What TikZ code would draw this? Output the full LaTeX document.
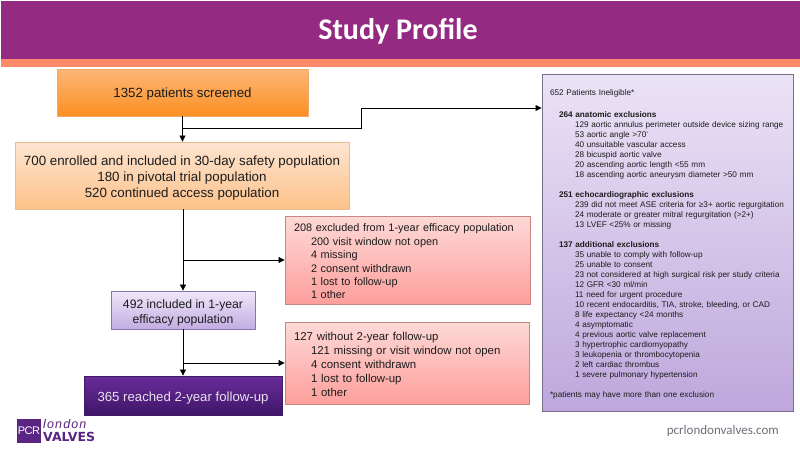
\documentclass[tikz,border=0pt]{standalone}
\usepackage{fontspec}
\setmainfont{Liberation Sans}
\newfontfamily\carl{Carlito}
\newfontfamily\dejav{DejaVu Sans}
\newfontfamily\lonfont[LetterSpace=9]{Liberation Sans}
\usetikzlibrary{shadows,arrows.meta}
\newcommand{\fdown}[1]{\rule{0pt}{#1}}
\tikzset{
  x=1pt,y=-1pt,
  flowbox/.style={rectangle,inner sep=0pt,align=center,
    drop shadow={shadow xshift=0.8pt,shadow yshift=-1.4pt,opacity=.4,fill=black}},
  orangebox/.style={flowbox,draw=orangeedge,line width=.7pt,top color=orangetop,bottom color=orangebot,text=textdark},
  peachbox/.style={flowbox,draw=peachedge,line width=.9pt,top color=peachtop,bottom color=peachbot,text=textdark},
  redbox/.style={flowbox,draw=rededge,line width=.8pt,top color=redtop,bottom color=redbot,text=textdark,align=left},
  lavbox/.style={flowbox,draw=lavedge,line width=.8pt,top color=lavtop,bottom color=lavbot,text=textdark},
  darkbox/.style={flowbox,draw=darkedge,line width=.8pt,top color=darktop,bottom color=darkbot,text=darktext},
  conn/.style={draw=black,line width=.75pt},
  connarrow/.style={conn,-{Triangle[length=6pt,width=6pt]}},
}
\definecolor{headpurple}{HTML}{942A82}
\definecolor{headsalmon}{HTML}{FB8A6B}
\definecolor{orangeedge}{HTML}{F0A868}
\definecolor{orangetop}{HTML}{FDB777}
\definecolor{orangebot}{HTML}{FC8F22}
\definecolor{peachedge}{HTML}{E8BC8E}
\definecolor{peachtop}{HTML}{FDE5D2}
\definecolor{peachbot}{HTML}{FDC28A}
\definecolor{rededge}{HTML}{C98583}
\definecolor{redtop}{HTML}{FDD9D7}
\definecolor{redbot}{HTML}{FD9F9C}
\definecolor{lavedge}{HTML}{8575B0}
\definecolor{lavtop}{HTML}{EFE8F8}
\definecolor{lavbot}{HTML}{C3ADE2}
\definecolor{darkedge}{HTML}{3F1A66}
\definecolor{darktop}{HTML}{6A2C9A}
\definecolor{darkbot}{HTML}{3F1668}
\definecolor{darktext}{HTML}{E8E2F0}
\definecolor{textdark}{HTML}{1C1C1C}
\definecolor{paneledge}{HTML}{77708A}
\definecolor{paneltop}{HTML}{EBE3F6}
\definecolor{panelbot}{HTML}{BEA7DC}
\definecolor{logopurple}{HTML}{5A2483}
\definecolor{urlgrey}{HTML}{6E6E78}
\begin{document}
\begin{tikzpicture}
\useasboundingbox (0,0) rectangle (800,450);
\fill[white] (0,0) rectangle (800,450);
\fill[headpurple] (1,1) rectangle (800,59);
\fill[headsalmon] (1,59) rectangle (800,67);
\node[text=white,font=\carl\bfseries\fontsize{30}{34}\selectfont] (title) at (398,31) {Study Profile};

\node[orangebox,minimum width=251pt,minimum height=47pt,font=\fontsize{13.3}{16}\selectfont] (screened) at (182.5,92.5) {\fdown{13pt}1352 patients screened};
\node[peachbox,minimum width=334pt,minimum height=67pt,font=\fontsize{13.35}{16}\selectfont] (enrolled) at (182,175.5) {\fdown{15pt}700 enrolled and included in 30-day safety population\\180 in pivotal trial population\\520 continued access population};
\node[redbox,minimum width=245pt,minimum height=88pt,text width=227pt,font=\fontsize{10.9}{13.4}\selectfont] (excl) at (407.5,260) {\fdown{11pt}208 excluded from 1-year efficacy population\\
\hspace*{17pt}200 visit window not open\\
\hspace*{17pt}4 missing\\
\hspace*{17pt}2 consent withdrawn\\
\hspace*{17pt}1 lost to follow-up\\
\hspace*{17pt}1 other};
\node[redbox,minimum width=244pt,minimum height=82pt,text width=226pt,font=\fontsize{11.4}{14}\selectfont] (without) at (407,363) {\fdown{11pt}127 without 2-year follow-up\\
\hspace*{17pt}121 missing or visit window not open\\
\hspace*{17pt}4 consent withdrawn\\
\hspace*{17pt}1 lost to follow-up\\
\hspace*{17pt}1 other};
\node[lavbox,minimum width=144pt,minimum height=38pt,font=\fontsize{12.2}{15}\selectfont] (included) at (183,310) {\fdown{14pt}492 included in 1-year\\efficacy population};
\node[darkbox,minimum width=198pt,minimum height=39pt,font=\fontsize{13.2}{16}\selectfont] (reached) at (183,395.5) {\fdown{15pt}365 reached 2-year follow-up};

\node[flowbox,draw=paneledge,line width=.9pt,top color=paneltop,bottom color=panelbot,minimum width=251pt,minimum height=337pt,text width=235pt,text=textdark,align=left,font=\fontsize{8.2}{10}\selectfont] (panel) at (667.5,242.5) {\fdown{9pt}652 Patients Ineligible*\\[2pt]
\mbox{}\\
\hspace*{9pt}\textbf{264 anatomic exclusions}\\
\hspace*{25pt}129 aortic annulus perimeter outside device sizing range\\
\hspace*{25pt}53 aortic angle >70{\raisebox{.3ex}{\fontsize{5}{5}\selectfont°}}\\
\hspace*{25pt}40 unsuitable vascular access\\
\hspace*{25pt}28 bicuspid aortic valve\\
\hspace*{25pt}20 ascending aortic length <55 mm\\
\hspace*{25pt}18 ascending aortic aneurysm diameter >50 mm\\
\mbox{}\\
\hspace*{9pt}\textbf{251 echocardiographic exclusions}\\
\hspace*{25pt}239 did not meet ASE criteria for ≥3+ aortic regurgitation\\
\hspace*{25pt}24 moderate or greater mitral regurgitation (>2+)\\
\hspace*{25pt}13 LVEF <25\% or missing\\
\mbox{}\\
\hspace*{9pt}\textbf{137 additional exclusions}\\
\hspace*{25pt}35 unable to comply with follow-up\\
\hspace*{25pt}25 unable to consent\\
\hspace*{25pt}23 not considered at high surgical risk per study criteria\\
\hspace*{25pt}12 GFR <30 ml/min\\
\hspace*{25pt}11 need for urgent procedure\\
\hspace*{25pt}10 recent endocarditis, TIA, stroke, bleeding, or CAD\\
\hspace*{25pt}8 life expectancy <24 months\\
\hspace*{25pt}4 asymptomatic\\
\hspace*{25pt}4 previous aortic valve replacement\\
\hspace*{25pt}3 hypertrophic cardiomyopathy\\
\hspace*{25pt}3 leukopenia or thrombocytopenia\\
\hspace*{25pt}2 left cardiac thrombus\\
\hspace*{25pt}1 severe pulmonary hypertension\\
\mbox{}\\
{*}patients may have more than one exclusion};

% connectors
\coordinate (j1) at (screened.south |- 0,128);
\coordinate (k1) at (361,128);
\coordinate (k2) at (361,108);
\coordinate (j2) at (enrolled.south -| included.north);
\coordinate (j3) at (included.north |- 0,260);
\coordinate (j4) at (included.north |- 0,363);
\draw[connarrow] (screened.south) -- (enrolled.north -| screened.south);
\draw[connarrow] (j1) -- (k1) -- (k2) -- (k2 -| panel.west);
\draw[connarrow] (j2) -- (included.north);
\draw[connarrow] (j3) -- (excl.west |- j3);
\draw[connarrow] (included.south) -- (reached.north);
\draw[connarrow] (j4) -- (without.west |- j4);

% footer
\node[fill=logopurple,minimum width=24pt,minimum height=24pt,inner sep=0pt,text=white,font=\fontsize{11}{12}\selectfont] (logoa) at (29,430.5) {P\kern-.6ptC\kern-.6ptR};
\node[anchor=west,inner sep=0pt,text=logopurple,font=\lonfont\fontsize{12.5}{13}\itshape\selectfont] (logob) at (43,424.5) {london};
\node[anchor=west,inner sep=0pt,text=logopurple,font=\dejav\fontsize{12.5}{13}\bfseries\selectfont] (logoc) at (43,437) {VALVES};
\node[anchor=east,inner sep=0pt,text=urlgrey,font=\carl\fontsize{13}{15}\selectfont] (url) at (779,431) {pcrlondonvalves.com};
\end{tikzpicture}
\end{document}
